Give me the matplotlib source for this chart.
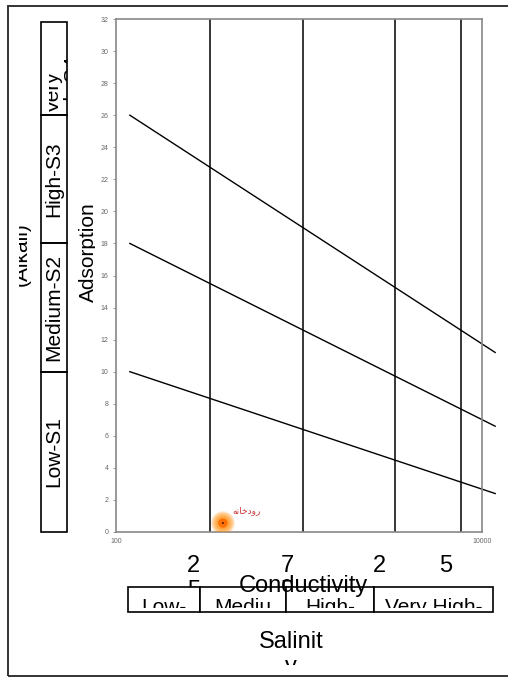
import matplotlib
matplotlib.use("Agg")

import matplotlib.pyplot as plt
import numpy as np
from matplotlib.patches import Rectangle
from matplotlib.ticker import NullLocator
from matplotlib.transforms import Bbox, TransformedBbox, blended_transform_factory, offset_copy

plt.rcParams["font.family"] = ["Liberation Sans", "DejaVu Sans"]

# ── data ────────────────────────────────────────────────────────────────────
sar_ticks = np.arange(0, 33, 2)
ec_ticks = [100, 10000]
ec_tick_labels = ["100", "10000"]

# conductivity class boundaries as drawn on the axis, and their labels
ec_bounds = [326, 1050, 3350, 7700]
ec_bound_labels = ["250", "750", "2250", "5000"]
salinity_classes = ["Low-\nC1", "Mediu\nm-C2", "High-\nC3", "Very High-\nC4"]

# sodium hazard classes (SAR ranges)
sodium_bounds = [0, 10, 18, 26, 31.8]
sodium_classes = ["Low-S1", "Medium-S2", "High-S3", "Very\nHigh-S4"]

# hazard lines (EC ends, SAR at each end)
line_ec = [119, 11800]
line_s1_s2 = [10, 2.4]
line_s2_s3 = [18, 6.6]
line_s3_s4 = [26, 11.2]

# samples
sample_names = ["رودخانه"]
sample_ec = [384]
sample_sar = [0.56]

# ── helpers ─────────────────────────────────────────────────────────────────
W, H = 508, 678

# tiny Arabic shaping for the letters used in the label
FORMS = {  # isolated, final, initial, medial
    "ا": ("\uFE8D", "\uFE8E", None, None),
    "د": ("\uFEA9", "\uFEAA", None, None),
    "ر": ("\uFEAD", "\uFEAE", None, None),
    "و": ("\uFEED", "\uFEEE", None, None),
    "خ": ("\uFEA5", "\uFEA6", "\uFEA7", "\uFEA8"),
    "ن": ("\uFEE5", "\uFEE6", "\uFEE7", "\uFEE8"),
    "ه": ("\uFEE9", "\uFEEA", "\uFEEB", "\uFEEC"),
}


def shape(word):
    out = []
    for i, ch in enumerate(word):
        if ch not in FORMS:
            out.append(ch)
            continue
        dual = FORMS[ch][2] is not None
        prev_joins = i > 0 and word[i - 1] in FORMS and FORMS[word[i - 1]][2] is not None
        next_joins = dual and i < len(word) - 1 and word[i + 1] in FORMS
        if prev_joins and next_joins:
            out.append(FORMS[ch][3])
        elif prev_joins:
            out.append(FORMS[ch][1])
        elif next_joins:
            out.append(FORMS[ch][2])
        else:
            out.append(FORMS[ch][0])
    return "".join(reversed(out))


def fx(px):
    return px / W


def fy(py):
    return 1 - py / H


def clip_px(artist, x0, y0, x1, y1):
    bb = TransformedBbox(Bbox.from_extents(fx(x0), fy(y1), fx(x1), fy(y0)), fig.transFigure)
    artist.set_clip_box(bb)
    artist.set_clip_on(True)


# ── figure ──────────────────────────────────────────────────────────────────
fig = plt.figure(figsize=(W / 100, H / 100), dpi=100)
fig.add_artist(Rectangle((fx(8), fy(676)), fx(600), fy(6) - fy(676), fill=False,
                         edgecolor="#333333", linewidth=1.4, transform=fig.transFigure))

ax = fig.add_axes([fx(116), fy(532), fx(482) - fx(116), fy(19) - fy(532)])
ax.set_xscale("log")
ax.set_xlim(100, 10000)
ax.set_ylim(0, 32)
ax.set_yticks(sar_ticks)
ax.set_xticks(ec_ticks)
ax.set_xticklabels(ec_tick_labels)
ax.xaxis.set_minor_locator(NullLocator())
ax.tick_params(axis="y", length=2.5, width=0.6, colors="#888888", labelsize=5, labelcolor="#666666", pad=3)
ax.tick_params(axis="x", length=0, labelsize=5, labelcolor="#666666", pad=4)
for sp in ax.spines.values():
    sp.set_color("#888888")
    sp.set_linewidth(1.2)

# class boundaries
for b in ec_bounds:
    ax.axvline(b, color="black", linewidth=1.1)

# hazard lines
for sar in (line_s1_s2, line_s2_s3, line_s3_s4):
    ax.plot(line_ec, sar, color="black", linewidth=1.0, clip_on=False)

# samples with glow
for name, ec, sar in zip(sample_names, sample_ec, sample_sar):
    for r in np.linspace(8.5, 3.5, 8):
        ax.scatter(ec, sar, s=(2 * r) ** 2, color="#ff8a00", alpha=0.18, edgecolors="none", zorder=5)
    ax.scatter(ec, sar, s=45, color="#ff6a00", alpha=0.9, edgecolors="none", zorder=6)
    ax.scatter(ec, sar, s=1.5, color="black", edgecolors="none", zorder=7)
    ax.annotate(shape(name), (ec, sar), xytext=(24, 12), textcoords="offset pixels",
                ha="center", va="center", fontsize=6.5, color="#cc3a3a", family=["DejaVu Sans"])

# sodium hazard boxes on the left
trans_y = blended_transform_factory(fig.transFigure, ax.transData)
for lo, hi, lab in zip(sodium_bounds[:-1], sodium_bounds[1:], sodium_classes):
    fig.add_artist(Rectangle((fx(41), lo), fx(26), hi - lo, fill=False, edgecolor="black",
                             linewidth=1.2, transform=trans_y))
    two_lines = "\n" in lab
    t = fig.text(fx(63 if two_lines else 54), (lo + hi) / 2 - (1.45 if two_lines else 0), lab,
                 transform=trans_y, rotation=90, ha="center", va="center", fontsize=15,
                 linespacing=0.95)
    left = fx(49 if two_lines else 41)
    t.set_clip_box(TransformedBbox(Bbox.from_extents(left, lo, fx(67), hi), trans_y))
    t.set_clip_on(True)

t = fig.text(fx(27), fy(254), "(Alkali)", rotation=90, rotation_mode="anchor",
             ha="center", va="baseline", fontsize=15)
clip_px(t, 19, 150, 40, 360)
t = fig.text(fx(94), fy(252), "Adsorption", rotation=90, rotation_mode="anchor",
             ha="center", va="baseline", fontsize=15)
clip_px(t, 70, 150, 95, 360)

# conductivity class values under the axis
trans_x = blended_transform_factory(ax.transData, fig.transFigure)
for i, (b, lab) in enumerate(zip(ec_bounds, ec_bound_labels)):
    t = fig.text(b, fy(555), "\n".join(lab), transform=offset_copy(trans_x, fig=fig, x=-16, units="dots"),
                 ha="center", va="top", fontsize=17)
    clip_px(t, 100, 540, 508, 587 if i < 2 else 577)

# salinity hazard boxes at the bottom
sal_edges = [128, 200, 286, 374, 493]
for x0, x1, lab in zip(sal_edges[:-1], sal_edges[1:], salinity_classes):
    fig.add_artist(Rectangle((fx(x0), fy(612)), fx(x1) - fx(x0), fy(587) - fy(612),
                             facecolor="white", edgecolor="black", linewidth=1.2,
                             transform=fig.transFigure))
    t = fig.text(fx((x0 + x1) / 2), fy(598), lab, ha="center", va="top", fontsize=15)
    clip_px(t, x0, 587, x1, 608)

fig.text(fx(303), fy(592), "Conductivity", ha="center", va="baseline", fontsize=17, zorder=5)
t = fig.text(fx(291), fy(631), "Salinit\ny", ha="center", va="top", fontsize=17)
clip_px(t, 100, 620, 508, 665)

fig.savefig("out.png", dpi=100)
